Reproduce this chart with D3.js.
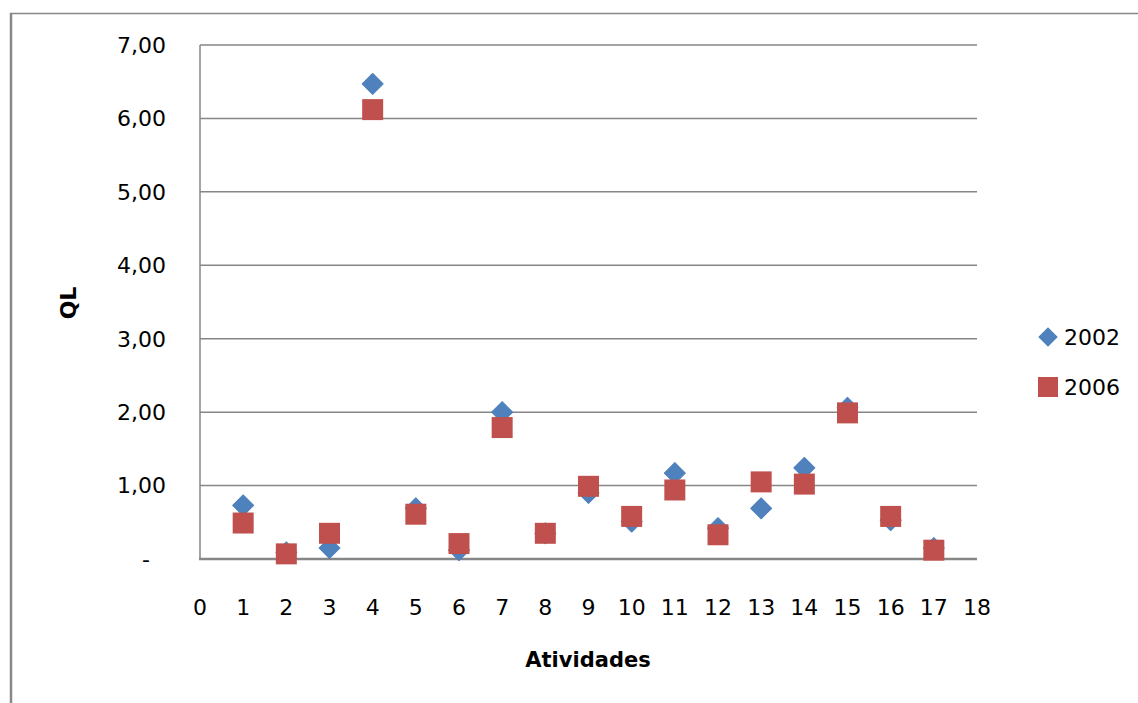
<!DOCTYPE html>
<html>
<head>
<meta charset="utf-8">
<script src="https://cdn.jsdelivr.net/npm/d3@7"></script>
<style>
html,body{margin:0;padding:0;background:#fff;}
svg{display:block;}
text{font-family:"DejaVu Sans",Verdana,sans-serif;fill:#000;}
</style>
</head>
<body>
<svg id="chart" width="1138" height="703"></svg>
<script>
const atividades = [1,2,3,4,5,6,7,8,9,10,11,12,13,14,15,16,17];
const ql2002 = [0.73,0.09,0.15,6.47,0.69,0.12,2.00,0.35,0.90,0.51,1.17,0.42,0.69,1.24,2.06,0.53,0.15];
const ql2006 = [0.49,0.07,0.35,6.12,0.61,0.21,1.79,0.35,0.99,0.58,0.94,0.33,1.05,1.02,1.99,0.58,0.12];
const yTicks = [0,1,2,3,4,5,6,7];
const xTicks = [0,1,2,3,4,5,6,7,8,9,10,11,12,13,14,15,16,17,18];
const seriesNames = ["2002","2006"];
const colors = ["#4F81BD","#C0504D"];

const svg = d3.select("#chart");
const margin = {left:200, right:977, top:45, bottom:559};
const x = d3.scaleLinear().domain([0,18]).range([margin.left, margin.right]);
const y = d3.scaleLinear().domain([0,7]).range([margin.bottom, margin.top]);

// outer border
svg.append("line").attr("x1",10).attr("x2",1138).attr("y1",13.5).attr("y2",13.5)
  .attr("stroke","#888").attr("stroke-width",1.5);
svg.append("line").attr("x1",11).attr("x2",11).attr("y1",13).attr("y2",703)
  .attr("stroke","#888").attr("stroke-width",2.5);

// gridlines
svg.append("g").selectAll("line").data(yTicks.filter(d=>d>0)).join("line")
  .attr("x1",x(0)).attr("x2",x(18)).attr("y1",d=>y(d)).attr("y2",d=>y(d))
  .attr("stroke","#868686").attr("stroke-width",1.5);

// y axis line
svg.append("line").attr("x1",x(0)).attr("x2",x(0)).attr("y1",y(7)).attr("y2",y(0))
  .attr("stroke","#868686").attr("stroke-width",1.5);
// x axis line
svg.append("line").attr("x1",x(0)-1).attr("x2",x(18)).attr("y1",y(0)).attr("y2",y(0))
  .attr("stroke","#868686").attr("stroke-width",2.5);

// y tick labels
const fmt = d => d===0 ? "-" : d3.format(".2f")(d).replace(".",",");
svg.append("g").selectAll("text").data(yTicks).join("text")
  .attr("x",d=> d===0 ? 150 : 166).attr("y",d=>y(d)).attr("dy","0.36em")
  .attr("text-anchor","end").style("font-size","22px").text(fmt);

// x tick labels
svg.append("g").selectAll("text").data(xTicks).join("text")
  .attr("x",d=>x(d)).attr("y",615).attr("text-anchor","middle")
  .style("font-size","22px").text(d=>d);

// axis titles
svg.append("text").attr("x",588).attr("y",667).attr("text-anchor","middle")
  .style("font-size","21px").style("font-weight","bold").text("Atividades");
svg.append("text").attr("transform","translate(76,303) rotate(-90)").attr("text-anchor","middle")
  .style("font-size","22px").style("font-weight","bold").text("QL");

// series 2002 - diamonds
const diamond = d3.symbol().type(d3.symbolSquare).size(220);
svg.append("g").selectAll("path").data(atividades.map((a,i)=>({a,v:ql2002[i]}))).join("path")
  .attr("d",diamond)
  .attr("transform",d=>`translate(${x(d.a)},${y(d.v)}) rotate(45)`)
  .attr("fill",colors[0]).attr("stroke",colors[0]).attr("stroke-width",1).attr("stroke-linejoin","round");

// series 2006 - squares
const square = d3.symbol().type(d3.symbolSquare).size(441);
svg.append("g").selectAll("path").data(atividades.map((a,i)=>({a,v:ql2006[i]}))).join("path")
  .attr("d",square)
  .attr("transform",d=>`translate(${x(d.a)},${y(d.v)})`)
  .attr("fill",colors[1]);

// legend
const leg = svg.append("g");
leg.append("path").attr("d",d3.symbol().type(d3.symbolSquare).size(190)())
  .attr("transform","translate(1048,337) rotate(45)").attr("fill",colors[0]);
leg.append("path").attr("d",d3.symbol().type(d3.symbolSquare).size(400)())
  .attr("transform","translate(1048,387)").attr("fill",colors[1]);
leg.selectAll("text").data(seriesNames).join("text")
  .attr("x",1064).attr("y",(d,i)=>337+i*50).attr("dy","0.36em")
  .style("font-size","22px").text(d=>d);
</script>
</body>
</html>
